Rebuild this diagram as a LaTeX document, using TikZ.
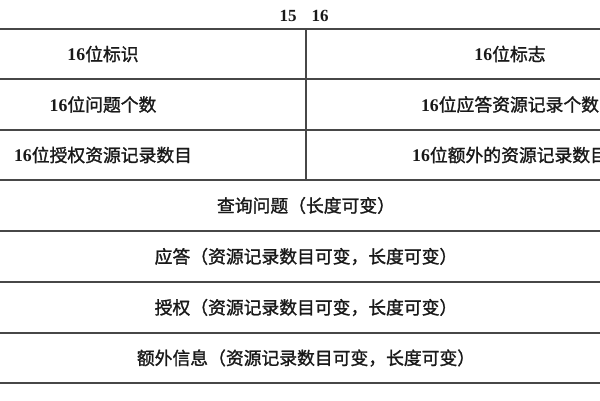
\documentclass[tikz,border=0pt]{standalone}
\usepackage{fontspec}
\newfontfamily\cjk[FakeBold=1.4]{Noto Sans CJK SC}
\newfontfamily\numf{Liberation Serif}
\begin{document}
\begin{tikzpicture}[x=1pt,y=-1pt,
  rule/.style={draw=black!72,line width=1.6pt},
  cell/.style={inner sep=0pt,anchor=center,font=\fontsize{17.8}{20}\selectfont\cjk,text=black!90},
  hdr/.style={inner sep=0pt,anchor=center,font=\fontsize{17}{19}\selectfont\numf\bfseries,text=black!90}]
\useasboundingbox (0,0) rectangle (600,400);
\fill[white] (0,0) rectangle (600,400);
\clip (0,0) rectangle (600,400);
% row rules
\foreach \y [count=\i] in {29,79,130,180,231,282,333,383}{
  \coordinate (L\i) at (-100,\y);
  \coordinate (R\i) at (712,\y);
  \draw[rule] (L\i) -- (R\i);
}
\coordinate (vt) at (306,29);
\coordinate (vb) at (306,180);
\draw[rule] (vt) -- (vb);
% header
\node[hdr] (h15) at (288,16) {15};
\node[hdr] (h16) at (320,16) {16};
% two-column rows
\node[cell] (a1) at (103,54) {{\numf\bfseries 16}位标识};
\node[cell] (b1) at (510,54) {{\numf\bfseries 16}位标志};
\node[cell] (a2) at (103,104.5) {{\numf\bfseries 16}位问题个数};
\node[cell] (b2) at (510,104.5) {{\numf\bfseries 16}位应答资源记录个数};
\node[cell] (a3) at (103,155) {{\numf\bfseries 16}位授权资源记录数目};
\node[cell] (b3) at (510,155) {{\numf\bfseries 16}位额外的资源记录数目};
% full-width rows
\node[cell] (c1) at (306,205.5) {查询问题（长度可变）};
\node[cell] (c2) at (306,256.5) {应答（资源记录数目可变，长度可变）};
\node[cell] (c3) at (306,307.5) {授权（资源记录数目可变，长度可变）};
\node[cell] (c4) at (306,358) {额外信息（资源记录数目可变，长度可变）};
\end{tikzpicture}
\end{document}
